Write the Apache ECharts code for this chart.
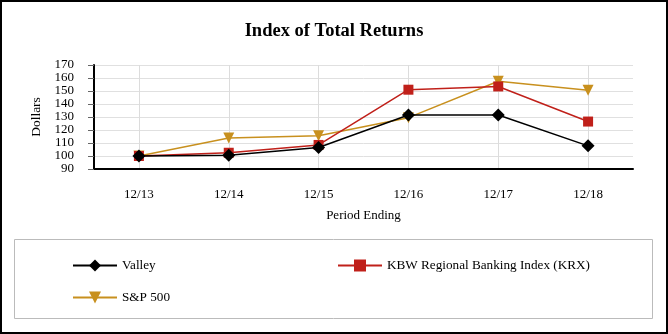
<!DOCTYPE html>
<html>
<head>
<meta charset="utf-8">
<script src="https://cdn.jsdelivr.net/npm/echarts@6/dist/echarts.min.js"></script>
<style>html,body{margin:0;padding:0;background:#fff}#c{width:668px;height:334px}</style>
</head>
<body>
<div id="c"></div>
<script>
var categories = ['12/13', '12/14', '12/15', '12/16', '12/17', '12/18'];
var valley = [100, 100.5, 106.5, 131.5, 131.5, 107.8];
var kbw = [100, 102.5, 108.5, 151, 153.5, 126.5];
var sp500 = [100, 113.8, 115.5, 129.5, 157.5, 150.5];
var yTicks = [90, 100, 110, 120, 130, 140, 150, 160, 170];

var FONT = '"Liberation Serif", "Times New Roman", serif';
var chart = echarts.init(document.getElementById('c'), null, {renderer: 'canvas'});
var opt = {
  backgroundColor: '#fff',
  animation: false,
  title: {
    text: 'Index of Total Returns',
    left: 'center', top: 17,
    textStyle: {fontFamily: FONT, fontSize: 18.5, fontWeight: 'bold', color: '#000'}
  },
  grid: {left: 94, right: 35, top: 65, bottom: 165},
  xAxis: {
    type: 'category', data: categories, boundaryGap: true,
    name: 'Period Ending', nameLocation: 'middle', nameGap: 40,
    nameTextStyle: {fontFamily: FONT, fontSize: 13, color: '#000'},
    axisLine: {lineStyle: {color: '#000', width: 2}},
    axisTick: {alignWithLabel: true, length: 5, lineStyle: {color: '#555'}},
    axisLabel: {fontFamily: FONT, fontSize: 13, color: '#000', margin: 19},
    splitLine: {show: false}
  },
  yAxis: {
    type: 'value', min: yTicks[0], max: yTicks[yTicks.length - 1], interval: 10,
    name: 'Dollars', nameLocation: 'middle', nameGap: 43,
    nameTextStyle: {fontFamily: FONT, fontSize: 13.5, color: '#000'},
    axisLine: {show: true, lineStyle: {color: '#000', width: 2}},
    axisTick: {show: true, length: 6, lineStyle: {color: '#666'}},
    axisLabel: {fontFamily: FONT, fontSize: 13, color: '#000', margin: 20},
    splitLine: {lineStyle: {color: '#e0e0e0', width: 1}}
  },
  legend: [{
    data: ['Valley', 'S&P 500'], orient: 'vertical', left: 67, top: 254,
    itemWidth: 44, itemHeight: 15, itemGap: 19,
    textStyle: {fontFamily: FONT, fontSize: 13.2, color: '#000'}
  }, {
    data: ['KBW Regional Banking Index (KRX)'], orient: 'vertical', left: 332, top: 254,
    itemWidth: 44, itemHeight: 15,
    textStyle: {fontFamily: FONT, fontSize: 13.2, color: '#000'}
  }],
  graphic: [
    {type: 'rect', shape: {x: 1, y: 1, width: 666, height: 332}, style: {fill: 'none', stroke: '#000', lineWidth: 2}, silent: true},
    {type: 'rect', shape: {x: 14.5, y: 239.5, width: 638, height: 79}, style: {fill: 'none', stroke: '#bbb', lineWidth: 1}, silent: true}
  ],
  series: [{
    name: 'Valley', type: 'line', data: valley,
    symbol: 'diamond', symbolSize: 13, z: 5,
    itemStyle: {color: '#000'}, lineStyle: {color: '#000', width: 1.5},
    markLine: {
      silent: true, symbol: 'none', label: {show: false},
      lineStyle: {color: '#dcdcdc', width: 1, type: 'solid'},
      data: categories.map(function (c) { return {xAxis: c}; }),
      z: 0
    }
  }, {
    name: 'KBW Regional Banking Index (KRX)', type: 'line', data: kbw,
    symbol: 'rect', symbolSize: 10, z: 4,
    itemStyle: {color: '#c0201a'}, lineStyle: {color: '#c0201a', width: 1.5}
  }, {
    name: 'S&P 500', type: 'line', data: sp500,
    symbol: 'triangle', symbolRotate: 180, symbolSize: 11, z: 3,
    itemStyle: {color: '#c8901e'}, lineStyle: {color: '#c8901e', width: 1.5}
  }]
};
chart.setOption(opt);
</script>
</body>
</html>
